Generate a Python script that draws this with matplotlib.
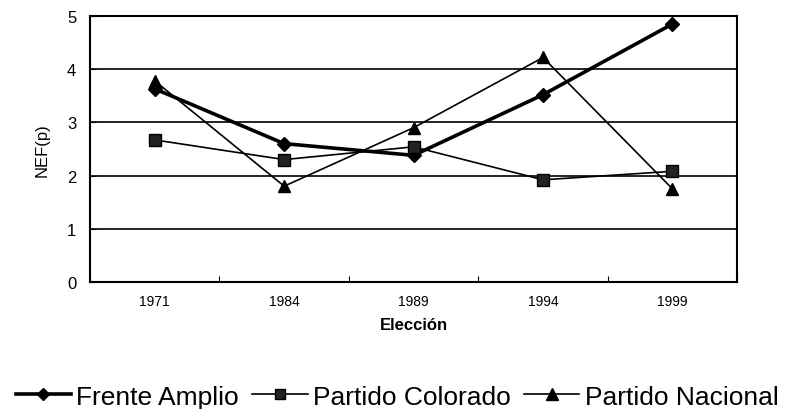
import matplotlib.pyplot as plt
import numpy as np

plt.rcParams['font.family'] = ['Liberation Sans', 'DejaVu Sans']

# Data
years = ['1971', '1984', '1989', '1994', '1999']
frente_amplio = [3.63, 2.6, 2.38, 3.52, 4.85]
partido_colorado = [2.67, 2.3, 2.54, 1.92, 2.08]
partido_nacional = [3.78, 1.8, 2.9, 4.22, 1.75]

fig = plt.figure(figsize=(7.94, 4.10), dpi=100)
ax = fig.add_axes([0.1134, 0.31, 0.815, 0.6485])

x = np.arange(len(years))
ax.plot(x, frente_amplio, color='black', lw=2.6, marker='D', ms=7,
        label='Frente Amplio')
ax.plot(x, partido_colorado, color='black', lw=1.2, marker='s', ms=8,
        markerfacecolor='#222222', label='Partido Colorado')
ax.plot(x, partido_nacional, color='black', lw=1.2, marker='^', ms=9,
        label='Partido Nacional')

ax.set_xlim(-0.5, len(years) - 0.5)
ax.set_ylim(0, 5)
ax.set_yticks(range(0, 6))
ax.yaxis.grid(True, color='black', lw=1.2)
ax.set_axisbelow(True)

# category ticks sit between the categories
ax.set_xticks(np.arange(-0.5, len(years), 1.0))
ax.set_xticklabels([])
ax.set_xticks(x, minor=True)
ax.set_xticklabels(years, minor=True, fontsize=10)
ax.tick_params(axis='x', which='minor', length=0, pad=9)
ax.tick_params(axis='x', which='major', length=4, direction='in', color='black')
ax.tick_params(axis='y', length=4, direction='in', labelsize=12, pad=10)

for s in ax.spines.values():
    s.set_linewidth(1.5)

ax.set_xlabel('Elección', fontsize=12, fontweight='bold', labelpad=6)
ax.set_ylabel('NEF(p)', fontsize=12, labelpad=12)

fig.legend(loc='center', bbox_to_anchor=(0.5, 0.03), ncol=3, frameon=False,
           fontsize=19, handlelength=2.1, handletextpad=0.2, columnspacing=0.5,
           markerscale=0.9)

fig.savefig('out.png', dpi=100)
